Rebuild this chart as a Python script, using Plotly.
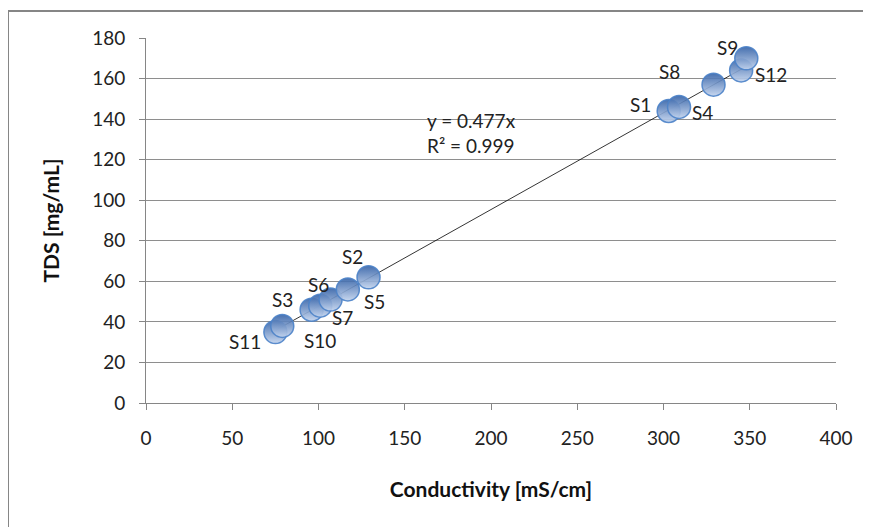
import plotly.graph_objects as go

labels = ["S11", "S3", "S10", "S6", "S7", "S5", "S2", "S1", "S4", "S8", "S12", "S9"]
conductivity = [75, 79, 96, 101, 107, 117, 129, 303, 309, 329, 345, 348]
tds = [35, 38, 46, 48, 51, 56, 62, 144, 146, 157, 164, 170]
slope = 0.477
label_shift = {
    "S11": (-30, -9), "S3": (0, 26), "S10": (8, -31), "S6": (-2, 21),
    "S7": (12, -18), "S5": (27, -12), "S2": (-16, 21), "S1": (-28, 7),
    "S4": (23, -6), "S8": (-44, 13), "S12": (30, -4), "S9": (-19, 11),
}

FONT = "Lato, 'Open Sans', sans-serif"
TXT = 19

fig = go.Figure()

xmin, xmax = min(conductivity), max(conductivity)
fig.add_trace(go.Scatter(
    x=[xmin, xmax], y=[slope * xmin, slope * xmax], mode="lines",
    line=dict(color="#000000", width=0.8), hoverinfo="skip", showlegend=False))

fig.add_trace(go.Scatter(
    x=conductivity, y=tds, mode="markers",
    marker=dict(size=23, color="rgba(50,96,166,0.9)",
                gradient=dict(type="vertical", color="rgba(195,212,238,0.92)"),
                line=dict(color="rgba(75,130,200,0.9)", width=1.5)),
    showlegend=False))

for lab, x, y in zip(labels, conductivity, tds):
    dx, dy = label_shift[lab]
    fig.add_annotation(x=x, y=y, text=lab, showarrow=False, xshift=dx, yshift=dy,
                       font=dict(family=FONT, size=TXT, color="#222222"))

fig.add_annotation(x=0.405, y=0.811, xref="paper", yref="paper", xanchor="left",
                   text="y = 0.477x<br>R² = 0.999", showarrow=False, align="left",
                   font=dict(family=FONT, size=TXT, color="#222222"))

# chart border (top and left visible)
fig.add_shape(type="line", xref="paper", yref="paper", x0=-0.2, x1=1.1, y0=1.074, y1=1.074,
              line=dict(color="#868686", width=2))
fig.add_shape(type="line", xref="paper", yref="paper", x0=-0.2, x1=-0.2, y0=1.074, y1=-0.4,
              line=dict(color="#868686", width=2))

fig.update_layout(
    width=863, height=519,
    margin=dict(l=138, r=35, t=30, b=124, autoexpand=False),
    paper_bgcolor="white", plot_bgcolor="white",
    font=dict(family=FONT, size=TXT, color="#222222"),
    xaxis=dict(range=[0, 400], dtick=50, tick0=0, showgrid=False, zeroline=False,
               showline=True, linecolor="#868686", linewidth=1,
               ticks="outside", ticklen=6, tickcolor="#868686", ticklabelstandoff=12,
               tickfont=dict(family=FONT, size=TXT, color="#222222"),
               title=dict(text="<b>Conductivity [mS/cm]</b>", standoff=34,
                          font=dict(family=FONT, size=21, color="#111111"))),
    yaxis=dict(range=[0, 180], dtick=20, tick0=0, showgrid=True, gridcolor="#8e8e8e",
               gridwidth=1, zeroline=False, showline=True, linecolor="#868686", linewidth=1,
               ticks="outside", ticklen=6, tickcolor="#868686", ticklabelstandoff=10,
               tickfont=dict(family=FONT, size=TXT, color="#222222"),
               title=dict(text="<b>TDS [mg/mL]</b>", standoff=26,
                          font=dict(family=FONT, size=21, color="#111111"))),
)

fig.write_html("out.html")
